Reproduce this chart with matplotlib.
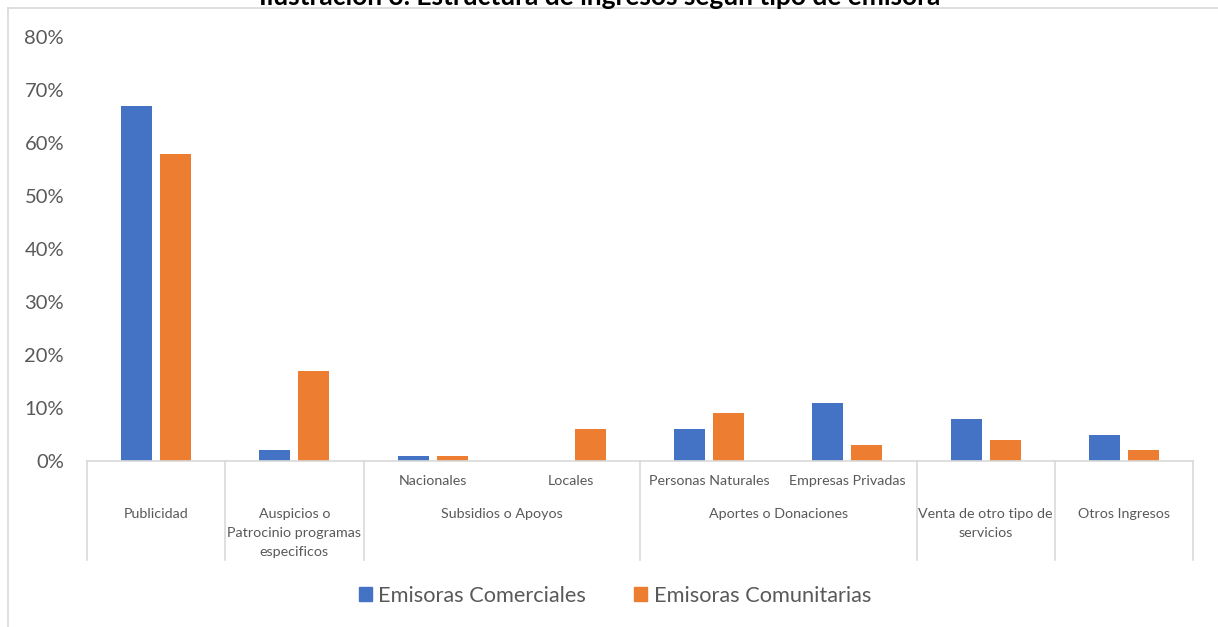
import matplotlib.pyplot as plt
import matplotlib.transforms as mtransforms
from matplotlib.lines import Line2D
from matplotlib.patches import Patch
import numpy as np

plt.rcParams['font.family'] = ['Lato', 'DejaVu Sans']

# categorias (dos niveles)
subcats = ['', '', 'Nacionales', 'Locales', 'Personas Naturales', 'Empresas Privadas', '', '']
groups = ['Publicidad', 'Auspicios o\nPatrocinio programas\nespecificos', 'Subsidios o Apoyos',
          'Aportes o Donaciones', 'Venta de otro tipo de\nservicios', 'Otros Ingresos']
group_sizes = [1, 1, 2, 2, 1, 1]

comerciales = [0.67, 0.02, 0.01, 0.00, 0.06, 0.11, 0.08, 0.05]
comunitarias = [0.58, 0.17, 0.01, 0.06, 0.09, 0.03, 0.04, 0.02]

blue = '#4472C4'
orange = '#ED7D31'
gray_txt = '#595959'
line_c = '#D9D9D9'

W, H = 1218, 627
fig = plt.figure(figsize=(W / 100, H / 100), dpi=100)
ax = fig.add_axes([87 / W, (H - 461) / H, 1106 / W, 424 / H])

x = np.arange(len(comerciales))
bw = 0.224
off = 0.141
ax.bar(x - off, comerciales, bw, color=blue, label='Emisoras Comerciales')
ax.bar(x + off, comunitarias, bw, color=orange, label='Emisoras Comunitarias')

ax.set_xlim(-0.5, len(x) - 0.5)
ax.set_ylim(0, 0.8)
ax.set_yticks(np.arange(0, 0.81, 0.1))
ax.set_yticklabels([f'{int(round(v * 100))}%' for v in np.arange(0, 0.81, 0.1)])
ax.tick_params(axis='y', length=0, pad=16.5, labelsize=14.5, labelcolor=gray_txt)
ax.set_xticks([])
for s in ['top', 'right', 'left']:
    ax.spines[s].set_visible(False)
ax.spines['bottom'].set_color(line_c)
ax.spines['bottom'].set_linewidth(1.2)

# eje de categorias jerarquico
trans = mtransforms.blended_transform_factory(ax.transData, ax.transAxes)
sep_bottom = -99 / 424
start = 0
bounds = [-0.5]
for g, n in zip(groups, group_sizes):
    center = start + (n - 1) / 2
    ax.text(center, -47 / 424, g, transform=trans, ha='center', va='top',
            fontsize=10.3, color=gray_txt, linespacing=1.7)
    start += n
    bounds.append(start - 0.5)
for b in bounds:
    ax.add_line(Line2D([b, b], [0, sep_bottom], transform=trans, color=line_c,
                       lw=1.2, clip_on=False))
for i, s in enumerate(subcats):
    if s:
        ax.text(i, -20 / 424, s, transform=trans, ha='center', va='center',
                fontsize=10.3, color=gray_txt)

# marco del grafico y titulo cortado
fig.add_artist(Line2D([8 / W, 1], [1 - 8 / H, 1 - 8 / H], transform=fig.transFigure,
                      color=line_c, lw=1.2))
fig.add_artist(Line2D([8 / W, 8 / W], [0, 1 - 8 / H], transform=fig.transFigure,
                      color=line_c, lw=1.2))
fig.text(600 / W, 1 - 5 / H, 'Ilustración 3. Estructura de ingresos según tipo de emisora',
         ha='center', va='baseline', fontsize=19, fontweight='bold', color='black')

handles = [Patch(color=blue), Patch(color=orange)]
fig.legend(handles, ['Emisoras Comerciales', 'Emisoras Comunitarias'],
           loc='center', bbox_to_anchor=(615 / W, 1 - 596 / H), ncol=2, frameon=False,
           fontsize=15.7, labelcolor=gray_txt, handlelength=0.6, handleheight=0.6,
           handletextpad=0.3, columnspacing=2.2)

fig.savefig('out.png', dpi=100)
